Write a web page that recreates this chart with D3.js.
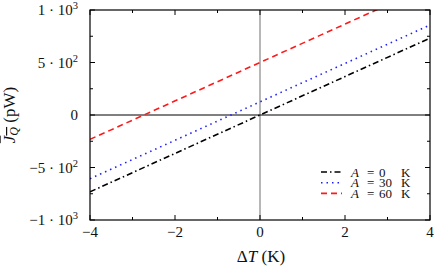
<!DOCTYPE html>
<html>
<head>
<meta charset="utf-8">
<script src="https://cdn.jsdelivr.net/npm/d3@7"></script>
<style>
  body { margin: 0; background: #fff; }
</style>
</head>
<body>
<div id="chart"></div>
<script>
// data: heat current vs temperature difference, one line per A
const deltaT = [-4, 4];
const seriesLabel = ["A", "A", "A"];
const seriesA = ["0", "30", "60"];
const seriesValues = [
  [-732, 732],
  [-607, 857],
  [-232, 1232]
];
const seriesColors = ["#000", "#1f1fff", "#ff1a1a"];
const seriesDash = ["6,3,1.5,3", "1.5,4", "6,4"];

const xTicks = [-4, -2, 0, 2, 4];
const xMinor = [-3, -1, 1, 3];
const yTicks = [-1000, -500, 0, 500, 1000];
const yTickBase = ["−1 · 10", "−5 · 10", "0", "5 · 10", "1 · 10"];
const yTickExp = ["3", "2", "", "2", "3"];
const yMinor = [-750, -250, 250, 750];

const W = 436, H = 269;
const m = { left: 90, right: 6, top: 10, bottom: 49 };
const FONT = "'Liberation Serif', 'DejaVu Serif', serif";

const svg = d3.select("#chart").append("svg")
  .attr("width", W)
  .attr("height", H)
  .attr("font-family", FONT)
  .attr("fill", "#111");

const x = d3.scaleLinear().domain([-4, 4]).range([m.left, W - m.right]);
const y = d3.scaleLinear().domain([-1000, 1000]).range([H - m.bottom, m.top]);

svg.append("clipPath").attr("id", "clip")
  .append("rect")
  .attr("x", x(-4)).attr("y", y(1000))
  .attr("width", x(4) - x(-4)).attr("height", y(-1000) - y(1000));

// zero lines
svg.append("line")
  .attr("x1", x(0)).attr("x2", x(0))
  .attr("y1", y(1000)).attr("y2", y(-1000))
  .attr("stroke", "#999").attr("stroke-width", 1.4);
svg.append("line")
  .attr("x1", x(-4)).attr("x2", x(4))
  .attr("y1", y(0)).attr("y2", y(0))
  .attr("stroke", "#000").attr("stroke-width", 1);

// series
const line = d3.line().x((d, i) => x(deltaT[i])).y(d => y(d));
const lines = svg.append("g").attr("clip-path", "url(#clip)");
seriesValues.forEach((vals, i) => {
  lines.append("path")
    .attr("d", line(vals))
    .attr("fill", "none")
    .attr("stroke", seriesColors[i])
    .attr("stroke-width", 1.6)
    .attr("stroke-dasharray", seriesDash[i]);
});

// ticks on all four sides (inward)
const tickG = svg.append("g").attr("stroke", "#000").attr("stroke-width", 1);
function tick(x1, y1, x2, y2) {
  tickG.append("line").attr("x1", x1).attr("y1", y1).attr("x2", x2).attr("y2", y2);
}
xTicks.concat(xMinor).forEach(v => {
  const len = xTicks.includes(v) ? 5 : 3;
  tick(x(v), y(-1000), x(v), y(-1000) - len);
  tick(x(v), y(1000), x(v), y(1000) + len);
});
yTicks.concat(yMinor).forEach(v => {
  const len = yTicks.includes(v) ? 5 : 3;
  tick(x(-4), y(v), x(-4) + len, y(v));
  tick(x(4), y(v), x(4) - len, y(v));
});

// frame
svg.append("rect")
  .attr("x", x(-4)).attr("y", y(1000))
  .attr("width", x(4) - x(-4)).attr("height", y(-1000) - y(1000))
  .attr("fill", "none").attr("stroke", "#000").attr("stroke-width", 1.2);

// tick labels
svg.append("g").selectAll("text")
  .data(xTicks)
  .join("text")
  .attr("x", d => x(d))
  .attr("y", y(-1000) + 17)
  .attr("text-anchor", "middle")
  .attr("font-size", 15)
  .text(d => d < 0 ? "−" + Math.abs(d) : d);

const yl = svg.append("g").selectAll("text")
  .data(yTicks)
  .join("text")
  .attr("x", x(-4) - 12)
  .attr("y", d => y(d) + 5)
  .attr("text-anchor", "end")
  .attr("font-size", 15);
yl.append("tspan").text((d, i) => yTickBase[i]);
yl.append("tspan")
  .attr("font-size", 10.5)
  .attr("dy", -6)
  .text((d, i) => yTickExp[i]);

// axis titles
const xt = svg.append("text")
  .attr("x", x(0) + 1)
  .attr("y", H - 7)
  .attr("text-anchor", "middle")
  .attr("font-size", 17);
xt.append("tspan").text("Δ");
xt.append("tspan").attr("font-style", "italic").text("T");
xt.append("tspan").text("\u00a0(K)");

const yt = svg.append("text")
  .attr("transform", `translate(15,${y(0)}) rotate(-90)`)
  .attr("text-anchor", "middle")
  .attr("font-size", 17);
yt.append("tspan").attr("font-style", "italic").attr("text-decoration", "overline").text("J");
yt.append("tspan").attr("font-style", "italic").attr("font-size", 12).attr("dy", 3)
  .attr("text-decoration", "overline").text("Q");
yt.append("tspan").attr("dy", -3).text("\u00a0(pW)");

// legend
const leg = svg.append("g").attr("font-size", 13);
seriesA.forEach((a, i) => {
  const ly = 172 + i * 10.7;
  leg.append("line")
    .attr("x1", 321).attr("x2", 342)
    .attr("y1", ly).attr("y2", ly)
    .attr("stroke", seriesColors[i])
    .attr("stroke-width", 1.6)
    .attr("stroke-dasharray", seriesDash[i]);
  const t = leg.append("text").attr("y", ly + 4.5);
  t.append("tspan").attr("x", 351).attr("font-style", "italic").text(seriesLabel[i]);
  t.append("tspan").attr("x", 367).text("=");
  t.append("tspan").attr("x", 379).text(a);
  t.append("tspan").attr("x", 401).text("K");
});
</script>
</body>
</html>
